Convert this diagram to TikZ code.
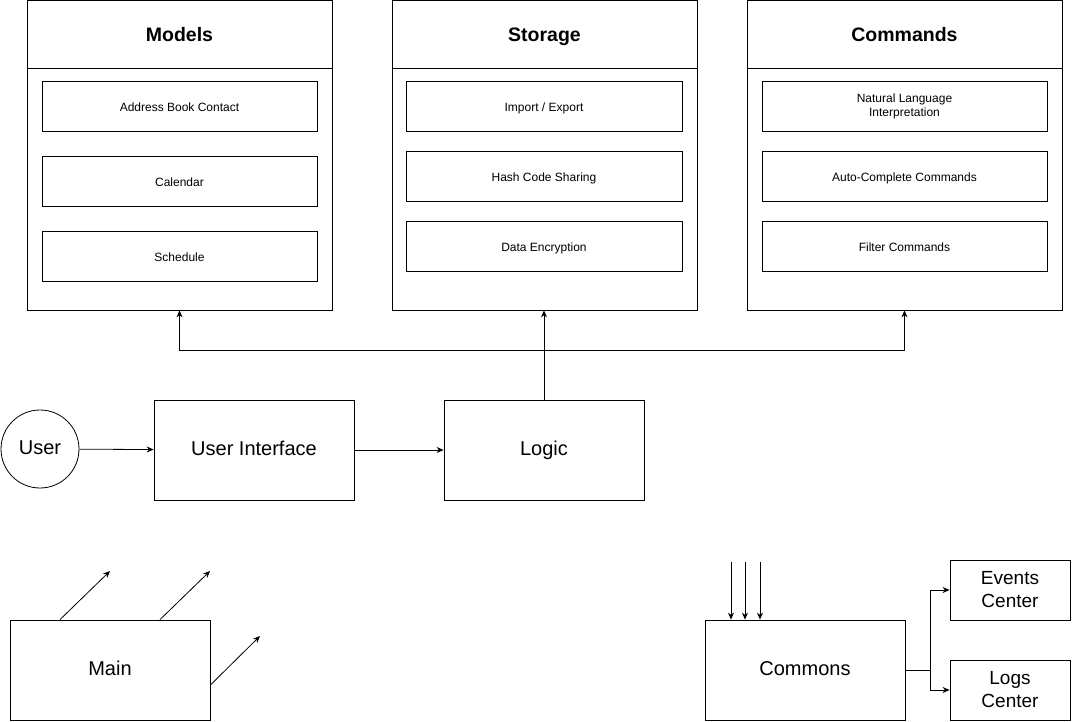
\documentclass[tikz,border=0pt]{standalone}
\usepackage{fontspec}
\setmainfont{Liberation Sans}
\usetikzlibrary{arrows.meta,positioning}

\begin{document}
\begin{tikzpicture}[x=1pt,y=-1pt,line width=0.8pt,>={Stealth[length=7pt,width=6pt]},
 part/.style={draw,minimum width=305pt,minimum height=310pt,inner sep=0pt},
 oneline/.style={text height=1.15em,text depth=0pt},
 head/.style={oneline,font=\fontsize{19.5}{23}\selectfont\bfseries},
 box/.style={draw,minimum width=275pt,minimum height=50pt,inner sep=0pt,align=center,font=\fontsize{12}{14}\selectfont},
 item/.style={box,text height=1.05em,text depth=0pt},
 comp/.style={draw,oneline,minimum width=200pt,minimum height=100pt,inner sep=0pt,font=\fontsize{20}{24}\selectfont},
 hub/.style={draw,minimum width=120pt,minimum height=60pt,inner sep=0pt,align=center,font=\fontsize{19}{23}\selectfont}]
\useasboundingbox (0,0) rectangle (1072,721);
% the three packages on top
\node[part] (models) at (179.5,155) {};
\node[part] (storage) at (544.5,155) {};
\node[part,minimum width=315pt] (commands) at (904.5,155) {};
\node[head] (modelsT) at (179.5,36) {Models};
\node[head] (storageT) at (544.5,36) {Storage};
\node[head] (commandsT) at (904.5,36) {Commands};
\draw ([yshift=-69pt]models.north west) -- ([yshift=-69pt]models.north east);
\draw ([yshift=-69pt]storage.north west) -- ([yshift=-69pt]storage.north east);
\draw ([yshift=-69pt]commands.north west) -- ([yshift=-69pt]commands.north east);
\node[item] (contact) at (179.5,106) {Address Book Contact};
\node[item] (calendar) at (179.5,181) {Calendar};
\node[item] (schedule) at (179.5,256) {Schedule};
\node[item,minimum width=276pt] (export) at (544,106) {Import / Export};
\node[item,minimum width=276pt] (hash) at (544,176) {Hash Code Sharing};
\node[item,minimum width=276pt] (encrypt) at (544,246) {Data Encryption};
\node[box,minimum width=285pt] (natural) at (904.5,106) {Natural Language\\Interpretation};
\node[item,minimum width=285pt] (complete) at (904.5,176) {Auto-Complete Commands};
\node[item,minimum width=285pt] (filter) at (904.5,246) {Filter Commands};
% middle row
\node[draw,circle,oneline,minimum size=78pt,inner sep=0pt,font=\fontsize{20}{24}\selectfont] (user) at (40,449) {User};
\node[comp] (ui) at (254,450) {User Interface};
\node[comp] (logic) at (544,450) {Logic};
\draw[->] (user) -- (ui);
\draw[->] (ui) -- (logic);
\draw[->] (logic.north) -- (logic.north |- storage.south);
\coordinate (split) at (544,350);
\draw[->] (split) -| (models.south);
\draw[->] (split) -| (commands.south);
% bottom left
\node[comp] (main) at (110,670) {Main};
\coordinate (m1) at (110,571);
\coordinate (m2) at (210,571);
\coordinate (m3) at (260,636);
\draw[->] ([xshift=-50pt]main.north) -- (m1);
\draw[->] ([xshift=50pt]main.north) -- (m2);
\draw[->] ([yshift=-15pt]main.east) -- (m3);
% bottom right
\node[comp] (commons) at (805,670) {Commons};
\node[hub] (events) at (1010,590) {Events\\Center};
\node[hub] (logs) at (1010,690) {Logs\\Center};
\foreach \x in {731,745,760} {
 \coordinate (c\x) at (\x,562);
 \draw[->] (c\x) -- (c\x |- commons.north);
}
\coordinate (fork) at (930,670);
\draw (commons.east) -- (fork);
\draw[->] (fork) |- (events.west);
\draw[->] (fork) |- (logs.west);
\end{tikzpicture}
\end{document}
